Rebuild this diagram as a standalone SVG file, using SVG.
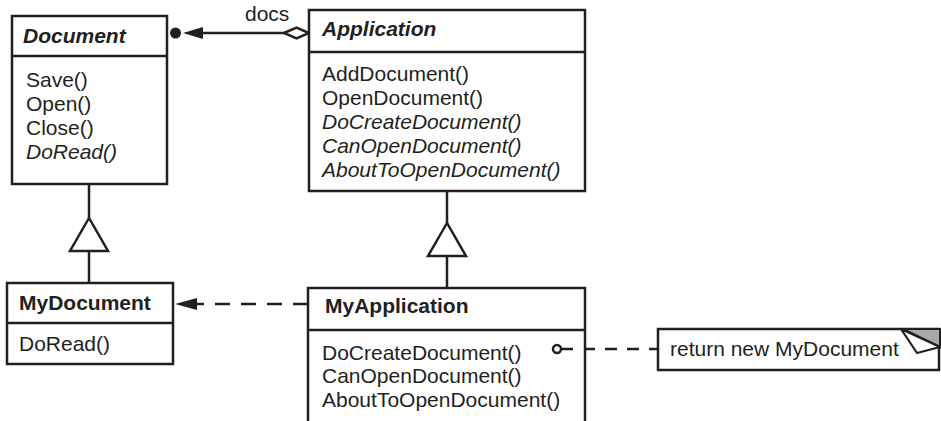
<svg xmlns="http://www.w3.org/2000/svg" width="941" height="421" viewBox="0 0 941 421">
<style>
.box{fill:#fff;stroke:#231f20;stroke-width:2.5}
.ln{stroke:#231f20;stroke-width:2.5;fill:none}
.dash{stroke-dasharray:15 11}
.hollow{fill:#fff;stroke:#231f20;stroke-width:2.5;stroke-linejoin:miter}
.solid{fill:#231f20;stroke:none}
text{font-family:"Liberation Sans",Arial,Helvetica,sans-serif;font-size:21px;fill:#231f20}
.b{font-weight:bold}
.i{font-style:italic}
</style>
<rect width="941" height="421" fill="#fff"/>

<g id="connectors">
  <!-- association Application -> Document -->
  <line class="ln" x1="200" y1="33" x2="284" y2="33"/>
  <polygon class="hollow" points="284,33 296.5,27.5 309,33 296.5,38.5"/>
  <polygon class="solid" points="183,33 203,27 203,39"/>
  <circle class="solid" cx="175.5" cy="33" r="5.5"/>
  <text x="245" y="21">docs</text>
  <!-- inheritance MyDocument -> Document -->
  <line class="ln" x1="89" y1="184" x2="89" y2="218"/>
  <polygon class="hollow" points="89,218 70,251 108,251"/>
  <line class="ln" x1="89" y1="251" x2="89" y2="283"/>
  <!-- inheritance MyApplication -> Application -->
  <line class="ln" x1="447" y1="191" x2="447" y2="223"/>
  <polygon class="hollow" points="447,223 428,256 466,256"/>
  <line class="ln" x1="447" y1="256" x2="447" y2="288"/>
  <!-- dependency MyApplication -> MyDocument -->
  <line class="ln dash" x1="308" y1="304" x2="197" y2="304"/>
  <polygon class="solid" points="175,304 197,298 197,310"/>
  <!-- note link -->
  <line class="ln" x1="561" y1="349" x2="658" y2="349" style="stroke-dasharray:12 10"/>
  <circle class="hollow" cx="557" cy="349" r="4"/>
</g>

<g id="Document">
  <rect class="box" x="12" y="16" width="155" height="168"/>
  <line class="ln" x1="12" y1="56" x2="167" y2="56"/>
  <text class="b i" x="23" y="43">Document</text>
  <text x="26" y="87">Save()</text>
  <text x="26" y="111">Open()</text>
  <text x="26" y="135">Close()</text>
  <text class="i" x="26" y="159">DoRead()</text>
</g>

<g id="Application">
  <rect class="box" x="309" y="10" width="276" height="181"/>
  <line class="ln" x1="309" y1="52" x2="585" y2="52"/>
  <text class="b i" x="322" y="36">Application</text>
  <text x="322" y="81">AddDocument()</text>
  <text x="322" y="105">OpenDocument()</text>
  <text class="i" x="322" y="129">DoCreateDocument()</text>
  <text class="i" x="322" y="153">CanOpenDocument()</text>
  <text class="i" x="322" y="177">AboutToOpenDocument()</text>
</g>

<g id="MyDocument">
  <rect class="box" x="7" y="283" width="166" height="81"/>
  <line class="ln" x1="7" y1="323" x2="173" y2="323"/>
  <text class="b" x="19" y="310">MyDocument</text>
  <text x="19" y="351">DoRead()</text>
</g>

<g id="MyApplication">
  <rect class="box" x="308" y="288" width="277" height="160"/>
  <line class="ln" x1="308" y1="330" x2="585" y2="330"/>
  <text class="b" x="325" y="313">MyApplication</text>
  <text x="322" y="360">DoCreateDocument()</text>
  <text x="322" y="383">CanOpenDocument()</text>
  <text x="322" y="407">AboutToOpenDocument()</text>
  <line class="ln" x1="561" y1="349" x2="573" y2="349"/>
  <circle class="hollow" cx="557" cy="349" r="4"/>
</g>

<g id="note">
  <rect class="box" x="658" y="329" width="281" height="41"/>
  <polygon points="903,329 940,329 940,347" fill="#a7a9ac" stroke="#231f20" stroke-width="2"/>
  <polygon points="901,329 940,347 917,353" fill="#fff" stroke="#231f20" stroke-width="2.2" stroke-linejoin="round"/>
  <text x="670" y="356">return new MyDocument</text>
</g>
</svg>
